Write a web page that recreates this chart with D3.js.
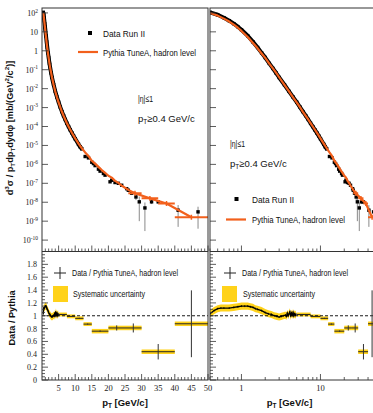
<!DOCTYPE html>
<html><head><meta charset="utf-8">
<script src="https://cdn.jsdelivr.net/npm/d3@7"></script>
<style>body{margin:0;background:#fff;} svg{display:block;}</style>
</head><body>
<svg id="c" width="373" height="413"></svg>
<script>
// ---------- data ----------
const dataPt  = [0.4,0.5,0.6,0.7,0.8,0.9,1.0,1.2,1.4,1.6,1.8,2.0,2.25,2.5,2.75,3.0,3.5,4.0,4.5,5.0,5.5,6.0,6.5,7.0,7.5,8.0,8.5,9.0,9.5,10,11,11.5,12,13,14,15,15.5,16,17,17.5,18.5,19,20.5,21,22,23,24,25.5,26,27,28.3,29.3,31,33,35,41,47];
const dataVal = [1.08e2,8.0e1,5.6e1,3.9e1,2.7e1,1.88e1,1.29e1,6.2,2.95,1.5,7.8e-1,4.4e-1,2.15e-1,1.17e-1,6.7e-2,3.9e-2,1.6e-2,7.2e-3,3.6e-3,1.95e-3,1.07e-3,6.1e-4,3.75e-4,2.35e-4,1.48e-4,9.9e-5,6.7e-5,4.6e-5,3.2e-5,2.25e-5,1.15e-5,8.5e-6,6.5e-6,2.6e-6,2.2e-6,1.3e-6,1.1e-6,8.6e-7,5.6e-7,4.4e-7,3.3e-7,2.7e-7,1.2e-7,1.45e-7,1.1e-7,1.0e-7,7.9e-8,5.2e-8,4.3e-8,3.0e-8,1.9e-8,1.05e-8,5.0e-9,1.05e-8,1.05e-8,3.8e-9,3.1e-9];
const dataErr = [0,0,0,0,0,0,0,0,0,0,0,0,0,0,0,0,0,0,0,0,0,0,0,0,0,0,0,0,0,0,0,0,0,0,0,0,0,0,0,0,0,0,1.5e-8,1.5e-8,1.2e-8,1.2e-8,1.0e-8,8e-9,8e-9,6e-9,6e-9,9.5e-9,4.7e-9,2.5e-9,2.5e-9,3.3e-9,2.7e-9];

const pythiaPt  = [0.4,0.5,0.6,0.7,0.8,0.9,1.0,1.2,1.4,1.6,1.8,2.0,2.25,2.5,2.75,3.0,3.5,4.0,4.5,5.0,5.5,6.0,6.5,7.0,7.5,8.0,9.0,10,11,12,13,14,15,16,17,18,19,20,21,22,23,24,25,26];
const pythiaVal = [1.0e2,7.2e1,5.0e1,3.5e1,2.4e1,1.65e1,1.12e1,5.4,2.6,1.35,7.2e-1,4.2e-1,2.1e-1,1.17e-1,6.8e-2,4.0e-2,1.6e-2,7.1e-3,3.5e-3,1.9e-3,1.05e-3,6.0e-4,3.7e-4,2.35e-4,1.5e-4,1.0e-4,4.7e-5,2.35e-5,1.25e-5,7.1e-6,4.3e-6,2.8e-6,1.55e-6,1.1e-6,7.4e-7,5.0e-7,3.6e-7,2.5e-7,2.0e-7,1.35e-7,1.05e-7,7.6e-8,5.8e-8,4.5e-8];
const pythiaBinLo  = [26,30,35,40];
const pythiaBinHi  = [30,35,40,50];
const pythiaBinVal = [3.0e-8,1.6e-8,8.5e-9,1.6e-9];

const ratioPt  = [0.4,0.45,0.5,0.55,0.6,0.7,0.8,0.9,1.0,1.1,1.2,1.3,1.4,1.5,1.6,1.8,2.0,2.2,2.4,2.6,2.8,3.0,3.2,3.4,3.6,3.7,3.8,3.9,4.0,4.1,4.2,4.3,4.4,4.5,4.6,4.7,4.8,4.9];
const ratioVal = [1.03,1.08,1.11,1.12,1.12,1.12,1.13,1.14,1.15,1.15,1.15,1.14,1.13,1.11,1.10,1.08,1.05,1.03,1.02,1.00,0.99,0.98,0.99,1.00,1.01,0.99,1.04,1.00,1.03,1.06,0.99,1.04,1.01,1.05,1.00,1.03,1.01,1.03];
const binLo    = [5,7.5,10,12.5,15,20,25,30,40];
const binHi    = [7.5,10,12.5,15,20,25,30,40,50];
const binRatio = [1.02,0.99,0.96,0.87,0.76,0.81,0.81,0.44,0.875];
const binStat  = [0.006,0.006,0.008,0.01,0.012,0.04,0.07,0.12,0.52];
const binSys   = [0.03,0.03,0.03,0.03,0.035,0.035,0.035,0.035,0.035];

// ticks
const yTopExp   = [2,1,0,-1,-2,-3,-4,-5,-6,-7,-8,-9,-10];
const yRatTicks = [0,0.2,0.4,0.6,0.8,1,1.2,1.4,1.6,1.8];
const xLinTicks = [5,10,15,20,25,30,35,40,45,50];
const xLogTicks = [1,10];

// ---------- layout ----------
const svg = d3.select("#c");
const ORANGE = "#f2601c", YELLOW = "#ffd21a";
const yT0 = 8, yMid = 251.5, yB = 380;
const panels = [
  {x: d3.scaleLinear().domain([0,50]).range([42,208]), x0:42, x1:208, log:false, id:"L"},
  {x: d3.scaleLog().domain([0.4,50]).range([210,375.7]), x0:210, x1:375.7, log:true, id:"R"}
];
const yTop = d3.scaleLog().domain([2.5e-11,182]).range([yMid,yT0]);
const yRat = d3.scaleLinear().domain([0,2]).range([yB,yMid]);
const serif = "'Liberation Serif','DejaVu Serif',serif";
const sans = "'Liberation Sans',Arial,sans-serif";

function rich(sel, segs, size){
  let off = 0;
  segs.forEach(s=>{
    const t = sel.append("tspan").text(s.t);
    let target = 0;
    if (s.sup){ t.attr("font-size", size*0.68); target = -size*0.42; }
    else if (s.sub){ t.attr("font-size", size*0.68); target = size*0.25; }
    if (target !== off){ t.attr("dy", target-off); off = target; }
  });
  return sel;
}

const defs = svg.append("defs");
panels.forEach(p=>{
  defs.append("clipPath").attr("id","ct"+p.id).append("rect")
    .attr("x",p.x0).attr("y",yT0).attr("width",p.x1-p.x0).attr("height",yMid-yT0);
  defs.append("clipPath").attr("id","cr"+p.id).append("rect")
    .attr("x",p.x0).attr("y",yMid).attr("width",p.x1-p.x0).attr("height",yB-yMid);
});

panels.forEach(p=>{
  const x = p.x;
  // ---------- top panel ----------
  const gt = svg.append("g").attr("clip-path","url(#ct"+p.id+")");
  dataPt.forEach((pt,i)=>{
    if (dataErr[i] > 0){
      const lo = Math.max(dataVal[i]-dataErr[i], 2.6e-11);
      gt.append("line").attr("x1",x(pt)).attr("x2",x(pt))
        .attr("y1",yTop(dataVal[i]+dataErr[i])).attr("y2",yTop(lo))
        .attr("stroke","#8a8a8a").attr("stroke-width",1);
    }
  });
  const dense = dataPt.map((d,i)=>[d,dataVal[i]]).filter(d=>d[0]<=12);
  gt.append("path").attr("d", d3.line().x(d=>x(d[0])).y(d=>yTop(d[1]))(dense))
    .attr("fill","none").attr("stroke","#000").attr("stroke-width",4).attr("stroke-linejoin","round");
  gt.selectAll("rect.m").data(dataPt.map((d,i)=>[d,dataVal[i]])).join("rect")
    .attr("x",d=>x(d[0])-1.7).attr("y",d=>yTop(d[1])-1.7).attr("width",3.4).attr("height",3.4).attr("fill","#000");
  const pyLine = pythiaPt.map((d,i)=>[d,pythiaVal[i]])
    .concat(pythiaBinLo.map((lo,i)=>[(lo+pythiaBinHi[i])/2, pythiaBinVal[i]]));
  gt.append("path").attr("d", d3.line().x(d=>x(d[0])).y(d=>yTop(d[1]))(pyLine))
    .attr("fill","none").attr("stroke",ORANGE).attr("stroke-width",2.2).attr("stroke-linejoin","round");
  pythiaBinLo.forEach((lo,i)=>{
    const c = (lo+pythiaBinHi[i])/2, v = pythiaBinVal[i];
    gt.append("line").attr("x1",x(lo)).attr("x2",x(pythiaBinHi[i])).attr("y1",yTop(v)).attr("y2",yTop(v))
      .attr("stroke",ORANGE).attr("stroke-width",2);
    gt.append("line").attr("x1",x(c)).attr("x2",x(c)).attr("y1",yTop(v*1.35)).attr("y2",yTop(v/1.35))
      .attr("stroke",ORANGE).attr("stroke-width",1.5);
  });

  // ---------- ratio panel ----------
  const gr = svg.append("g").attr("clip-path","url(#cr"+p.id+")");
  const rl = ratioPt.map((d,i)=>[d,ratioVal[i]]);
  gr.append("path").attr("d", d3.area().x(d=>x(d[0])).y0(d=>yRat(d[1]-0.055)).y1(d=>yRat(d[1]+0.055))(rl))
    .attr("fill",YELLOW);
  binLo.forEach((lo,i)=>{
    gr.append("rect").attr("x",x(lo)).attr("width",x(binHi[i])-x(lo))
      .attr("y",yRat(binRatio[i]+binSys[i])).attr("height",yRat(binRatio[i]-binSys[i])-yRat(binRatio[i]+binSys[i]))
      .attr("fill",YELLOW);
  });
  gr.append("line").attr("x1",p.x0).attr("x2",p.x1).attr("y1",yRat(1)).attr("y2",yRat(1))
    .attr("stroke","#000").attr("stroke-width",0.9).attr("stroke-dasharray","3,2");
  gr.append("path").attr("d", d3.line().x(d=>x(d[0])).y(d=>yRat(d[1]))(rl))
    .attr("fill","none").attr("stroke","#000").attr("stroke-width",1.3);
  rl.forEach(d=>{
    gr.append("line").attr("x1",x(d[0])).attr("x2",x(d[0])).attr("y1",yRat(d[1]+0.015)).attr("y2",yRat(d[1]-0.015))
      .attr("stroke","#000").attr("stroke-width",0.8);
  });
  binLo.forEach((lo,i)=>{
    const c = (lo+binHi[i])/2;
    gr.append("line").attr("x1",x(lo)).attr("x2",x(binHi[i])).attr("y1",yRat(binRatio[i])).attr("y2",yRat(binRatio[i]))
      .attr("stroke","#222").attr("stroke-width",1);
    gr.append("line").attr("x1",x(c)).attr("x2",x(c)).attr("y1",yRat(binRatio[i]+binStat[i])).attr("y2",yRat(binRatio[i]-binStat[i]))
      .attr("stroke","#333").attr("stroke-width",1);
  });

  // ---------- axes ticks ----------
  const ax = svg.append("g").attr("stroke","#333").attr("stroke-width",0.8);
  yTop.ticks().forEach(v=>{
    const e = Math.log10(v), major = Math.abs(e-Math.round(e))<1e-6;
    const y = yTop(v); if (y<yT0||y>yMid) return;
    ax.append("line").attr("x1",p.x0).attr("x2",p.x0+(major?6:3)).attr("y1",y).attr("y2",y);
  });
  d3.range(0,2.001,0.05).forEach(v=>{
    const major = Math.abs(v*5-Math.round(v*5))<1e-6;
    ax.append("line").attr("x1",p.x0).attr("x2",p.x0+(major?6:3)).attr("y1",yRat(v)).attr("y2",yRat(v));
  });
  const xt = p.log ? x.ticks().map(v=>[v, xLogTicks.includes(v)])
                   : d3.range(1,51).map(v=>[v, v%5===0]);
  xt.forEach(([v,major])=>{
    const xx = x(v); if (xx<p.x0||xx>p.x1) return;
    [yMid,yB].forEach(yy=>{
      ax.append("line").attr("x1",xx).attr("x2",xx).attr("y1",yy).attr("y2",yy-(major?6:3));
    });
  });
  svg.append("rect").attr("x",p.x0).attr("y",yT0).attr("width",p.x1-p.x0).attr("height",yB-yT0)
    .attr("fill","none").attr("stroke","#333").attr("stroke-width",1);
  svg.append("line").attr("x1",p.x0).attr("x2",p.x1).attr("y1",yMid).attr("y2",yMid).attr("stroke","#333").attr("stroke-width",1);

  (p.log ? xLogTicks : xLinTicks).forEach(v=>{
    svg.append("text").attr("x",x(v)).attr("y",391).attr("text-anchor","middle")
      .attr("font-family",serif).attr("font-size",8.5).attr("fill","#222").text(v);
  });
  const xtl = svg.append("text").attr("x",(p.x0+Math.min(p.x1,373))/2+(p.log?-2:0)).attr("y",406).attr("text-anchor","middle")
    .attr("font-family",sans).attr("font-weight","bold").attr("font-size",9.5).attr("fill","#111");
  rich(xtl,[{t:"p"},{t:"T",sub:true},{t:" [GeV/c]"}],9.5);
});

yTopExp.forEach(e=>{
  const t = svg.append("text").attr("x",38).attr("y",yTop(Math.pow(10,e))+3).attr("text-anchor","end")
    .attr("font-family",serif).attr("font-size",8).attr("fill","#222");
  if (e===0) t.text("1");
  else if (e===1) t.text("10");
  else rich(t,[{t:"10"},{t:String(e),sup:true}],8);
});
yRatTicks.forEach(v=>{
  svg.append("text").attr("x",37).attr("y",yRat(v)+3).attr("text-anchor","end")
    .attr("font-family",serif).attr("font-size",8).attr("fill","#222").text(v);
});

const yt = svg.append("text").attr("transform","translate(13,128) rotate(-90)").attr("text-anchor","middle")
  .attr("font-family",sans).attr("font-weight","bold").attr("font-size",9.2).attr("fill","#111");
rich(yt,[{t:"d"},{t:"3",sup:true},{t:"σ / p"},{t:"T",sub:true},{t:"dp"},{t:"T",sub:true},{t:"dydφ [mb/(GeV"},{t:"2",sup:true},{t:"/c"},{t:"2",sup:true},{t:")]"}],9.2);
svg.append("text").attr("transform","translate(15,318) rotate(-90)").attr("text-anchor","middle")
  .attr("font-family",sans).attr("font-weight","bold").attr("font-size",9.2).attr("fill","#111").text("Data / Pythia");

function ltext(x,y,str,len,fs){
  return svg.append("text").attr("x",x).attr("y",y).attr("font-family",sans).attr("font-size",fs||9.5)
    .attr("fill","#111").attr("textLength",len).attr("lengthAdjust","spacingAndGlyphs").text(str);
}
function legendTop(mx,my,lx,ly,tx){
  svg.append("rect").attr("x",mx-2).attr("y",my-2).attr("width",4).attr("height",4).attr("fill","#000");
  ltext(tx,my+3.5,"Data Run II",42);
  svg.append("line").attr("x1",lx).attr("x2",lx+20).attr("y1",ly).attr("y2",ly).attr("stroke",ORANGE).attr("stroke-width",2.2);
  ltext(tx,ly+3.5,"Pythia TuneA, hadron level",93);
}
function cuts(x,y1,y2){
  ltext(x,y1,"|η|≤1",15);
  const t = svg.append("text").attr("x",x).attr("y",y2).attr("font-family",sans).attr("font-size",9.5).attr("fill","#111");
  rich(t,[{t:"p"},{t:"T",sub:true},{t:"≥0.4 GeV/c"}],9.5);
}
legendTop(90,33,78,52,103);
cuts(138,102,122);
legendTop(236.5,199,226,219.5,252);
cuts(230,147,167);

function legendRatio(cx,cy,tx,bx){
  svg.append("line").attr("x1",cx-6).attr("x2",cx+6).attr("y1",cy).attr("y2",cy).attr("stroke","#222").attr("stroke-width",1);
  svg.append("line").attr("x1",cx).attr("x2",cx).attr("y1",cy-6).attr("y2",cy+6).attr("stroke","#222").attr("stroke-width",1);
  ltext(tx,cy+3.3,"Data / Pythia TuneA, hadron level",106,8.6);
  svg.append("rect").attr("x",bx).attr("y",286).attr("width",15).attr("height",16).attr("fill",YELLOW);
  ltext(tx+1,297.3,"Systematic uncertainty",72,8.8);
}
legendRatio(60,273,72,53);
legendRatio(230,273,242,222);
</script>
</body></html>
